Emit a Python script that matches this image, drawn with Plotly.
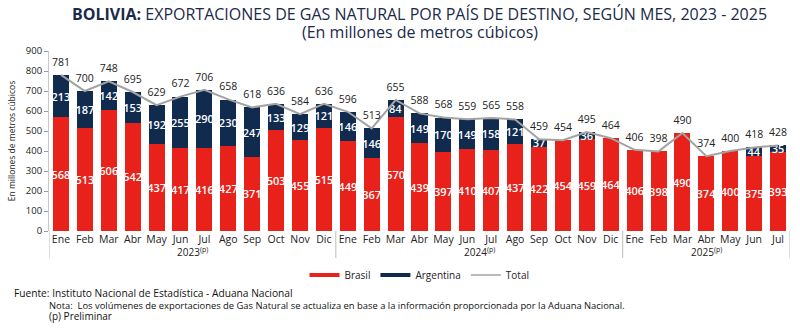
import plotly.graph_objects as go

months_2023 = ["Ene", "Feb", "Mar", "Abr", "May", "Jun", "Jul", "Ago", "Sep", "Oct", "Nov", "Dic"]
months_2024 = ["Ene", "Feb", "Mar", "Abr", "May", "Jun", "Jul", "Ago", "Sep", "Oct", "Nov", "Dic"]
months_2025 = ["Ene", "Feb", "Mar", "Abr", "May", "Jun", "Jul"]
year_labels = ["2023<sup>(p)</sup>", "2024<sup>(p)</sup>", "2025<sup>(p)</sup>"]

brasil_2023 = [568, 513, 606, 542, 437, 417, 416, 427, 371, 503, 455, 515]
brasil_2024 = [449, 367, 570, 439, 397, 410, 407, 437, 422, 454, 459, 464]
brasil_2025 = [406, 398, 490, 374, 400, 375, 393]

argentina_2023 = [213, 187, 142, 153, 192, 255, 290, 230, 247, 133, 129, 121]
argentina_2024 = [146, 146, 84, 149, 170, 149, 158, 121, 37, 0, 36, 0]
argentina_2025 = [0, 0, 0, 0, 0, 44, 35]

total_2023 = [781, 700, 748, 695, 629, 672, 706, 658, 618, 636, 584, 636]
total_2024 = [596, 513, 655, 588, 568, 559, 565, 558, 459, 454, 495, 464]
total_2025 = [406, 398, 490, 374, 400, 418, 428]

months = months_2023 + months_2024 + months_2025
brasil = brasil_2023 + brasil_2024 + brasil_2025
argentina = argentina_2023 + argentina_2024 + argentina_2025
total = total_2023 + total_2024 + total_2025
group_sizes = [len(months_2023), len(months_2024), len(months_2025)]
xs = list(range(len(months)))

RED = "#E8221B"
NAVY = "#112B4F"
GRAY = "#A3A3A3"
FONT = "Open Sans"

fig = go.Figure()
fig.add_trace(go.Bar(
    x=xs, y=brasil, name="Brasil", marker=dict(color=RED, line=dict(width=0)),
    text=[str(v) for v in brasil], textposition="inside", insidetextanchor="middle",
    textfont=dict(color="white", size=11, family=FONT, weight=600), textangle=0,
    showlegend=False,
))
fig.add_trace(go.Bar(
    x=xs, y=argentina, name="Argentina", marker=dict(color=NAVY, line=dict(width=0)),
    text=[str(v) if v > 0 else "" for v in argentina], textposition="inside",
    insidetextanchor="middle",
    textfont=dict(color="white", size=11, family=FONT, weight=600), textangle=0,
    showlegend=False,
))
fig.add_trace(go.Scatter(
    x=xs, y=total, name="Total", mode="lines+markers+text",
    line=dict(color=GRAY, width=2),
    marker=dict(size=9, color="rgba(0,0,0,0)"),
    text=[str(v) for v in total], textposition="top center",
    textfont=dict(color="#222222", size=10.5, family=FONT),
    cliponaxis=False, showlegend=False,
))
# legend entries drawn as wide line swatches like the reference
for nm, col, w in [("Brasil", RED, 4), ("Argentina", NAVY, 4), ("Total", GRAY, 1.5)]:
    fig.add_trace(go.Scatter(x=[None], y=[None], mode="lines", name=nm,
                             line=dict(color=col, width=w), showlegend=True))

# group separators and year labels
shapes = []
annotations = []
start = 0
bounds = [-0.5]
for i, n in enumerate(group_sizes):
    center = start + (n - 1) / 2
    annotations.append(dict(x=center, y=-0.115, xref="x", yref="paper", text=year_labels[i],
                            showarrow=False, font=dict(size=10, family=FONT, color="#222"),
                            yanchor="middle"))
    start += n
    bounds.append(start - 0.5)
for b in bounds:
    shapes.append(dict(type="line", x0=b, x1=b, xref="x", yref="paper", y0=0, y1=-0.15,
                       line=dict(color="#BBBBBB", width=1)))

# title
annotations.append(dict(x=0.5, y=(231 - 14) / 180, xref="paper", yref="paper",
                        text="<b>BOLIVIA:</b> EXPORTACIONES DE GAS NATURAL POR PAÍS DE DESTINO, SEGÚN MES, 2023 - 2025",
                        showarrow=False, font=dict(size=16, family=FONT, color="#1B2A4A"),
                        xanchor="center", yanchor="middle"))
annotations.append(dict(x=0.5, y=(231 - 32) / 180, xref="paper", yref="paper",
                        text="(En millones de metros cúbicos)",
                        showarrow=False, font=dict(size=16, family=FONT, color="#1B2A4A"),
                        xanchor="center", yanchor="middle"))
# footer
annotations.append(dict(x=(12 - 49) / 741, y=(231 - 293) / 180, xref="paper", yref="paper",
                        text="Fuente: Instituto Nacional de Estadística - Aduana Nacional",
                        showarrow=False, font=dict(size=10.2, family=FONT, color="#111"),
                        xanchor="left", yanchor="middle"))
annotations.append(dict(x=(47 - 49) / 741, y=(231 - 305) / 180, xref="paper", yref="paper",
                        text="Nota:  Los volúmenes de exportaciones de Gas Natural se actualiza en base a la información proporcionada por la Aduana Nacional.",
                        showarrow=False, font=dict(size=9.4, family=FONT, color="#111"),
                        xanchor="left", yanchor="middle"))
annotations.append(dict(x=(47 - 49) / 741, y=(231 - 316) / 180, xref="paper", yref="paper",
                        text="(p) Preliminar",
                        showarrow=False, font=dict(size=10, family=FONT, color="#111"),
                        xanchor="left", yanchor="middle"))

fig.update_layout(
    width=800, height=333,
    margin=dict(l=49, r=10, t=51, b=102),
    barmode="stack", bargap=0.33,
    plot_bgcolor="white", paper_bgcolor="white",
    font=dict(family=FONT, size=10, color="#222"),
    showlegend=True,
    legend=dict(orientation="h", x=0.5, xanchor="center", y=(231 - 275) / 180, yanchor="middle",
                font=dict(size=10, family=FONT), itemwidth=30, traceorder="normal"),
    uniformtext=dict(minsize=10, mode="show"),
    shapes=shapes, annotations=annotations,
    xaxis=dict(tickvals=xs, ticktext=months, range=[-0.5, len(xs) - 0.5],
               showgrid=False, zeroline=False, showline=False, ticks="",
               tickfont=dict(size=10.5, family=FONT)),
    yaxis=dict(range=[0, 900], dtick=100, showgrid=False, zeroline=False,
               showline=True, linecolor="#C8C8C8", linewidth=1,
               ticks="outside", ticklen=4, tickcolor="#999", tickfont=dict(size=9.5, family=FONT),
               title=dict(text="En millones de metros cúbicos", font=dict(size=8.5, family=FONT),
                          standoff=8)),
)

fig.write_html("out.html")
